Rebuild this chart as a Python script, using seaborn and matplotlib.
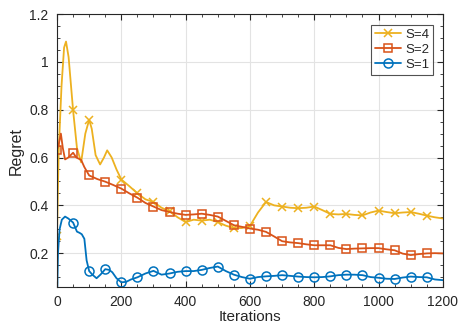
import numpy as np
import pandas as pd
import matplotlib
matplotlib.use("Agg")
import matplotlib.pyplot as plt
import seaborn as sns
from matplotlib.ticker import MultipleLocator, FuncFormatter

# ------------------------------
# Data
# ------------------------------
iter_s4 = [0, 5, 14, 22, 28, 36, 50, 62, 75, 88, 100, 108, 120, 134, 146, 156, 170, 185,
           200, 225, 250, 275, 300, 325, 350, 375, 400, 425, 450, 475, 500, 525, 550, 575,
           600, 625, 650, 675, 700, 725, 750, 775, 800, 825, 850, 875, 900, 925, 950, 975,
           1000, 1025, 1050, 1075, 1100, 1125, 1150, 1175, 1200]
regret_s4 = [0.27, 0.62, 0.90, 1.06, 1.085, 1.02, 0.797, 0.64, 0.58, 0.70, 0.758, 0.72, 0.61,
             0.571, 0.60, 0.63, 0.60, 0.55, 0.508, 0.48, 0.45, 0.425, 0.414, 0.39, 0.375,
             0.35, 0.33, 0.34, 0.336, 0.34, 0.33, 0.315, 0.305, 0.305, 0.314, 0.37, 0.414,
             0.40, 0.395, 0.39, 0.388, 0.39, 0.395, 0.38, 0.364, 0.362, 0.364, 0.36, 0.358,
             0.37, 0.378, 0.372, 0.367, 0.37, 0.372, 0.365, 0.357, 0.35, 0.345]

iter_s2 = [0, 6, 12, 18, 25, 35, 50, 60, 75, 85, 100, 125, 150, 175, 200, 225, 250, 275,
           300, 325, 350, 375, 400, 425, 450, 475, 500, 525, 550, 575, 600, 625, 650, 675,
           700, 725, 750, 775, 800, 825, 850, 875, 900, 925, 950, 975, 1000, 1025, 1050,
           1075, 1100, 1125, 1150, 1175, 1200]
regret_s2 = [0.633, 0.66, 0.70, 0.64, 0.592, 0.60, 0.62, 0.60, 0.59, 0.56, 0.525, 0.51,
             0.499, 0.485, 0.47, 0.45, 0.432, 0.41, 0.395, 0.38, 0.372, 0.365, 0.36, 0.362,
             0.365, 0.36, 0.353, 0.335, 0.317, 0.31, 0.303, 0.298, 0.289, 0.27, 0.25, 0.245,
             0.242, 0.237, 0.233, 0.233, 0.233, 0.222, 0.217, 0.219, 0.22, 0.221, 0.221,
             0.216, 0.212, 0.198, 0.192, 0.196, 0.199, 0.2, 0.199]

iter_s1 = [0, 3, 8, 15, 25, 35, 50, 62, 70, 77, 85, 92, 100, 110, 123, 135, 150, 162, 172,
           185, 200, 215, 230, 250, 275, 300, 325, 350, 375, 400, 425, 450, 475, 500, 525,
           550, 575, 600, 625, 650, 675, 700, 725, 750, 775, 800, 825, 850, 875, 900, 925,
           950, 975, 1000, 1025, 1050, 1075, 1100, 1125, 1150, 1175, 1200]
regret_s1 = [0.0, 0.2, 0.30, 0.34, 0.353, 0.345, 0.328, 0.29, 0.285, 0.279, 0.26, 0.17,
             0.125, 0.11, 0.095, 0.11, 0.133, 0.13, 0.12, 0.095, 0.078, 0.08, 0.09, 0.099,
             0.115, 0.126, 0.11, 0.115, 0.122, 0.125, 0.125, 0.13, 0.138, 0.144, 0.125, 0.11,
             0.10, 0.093, 0.10, 0.103, 0.105, 0.108, 0.105, 0.102, 0.10, 0.099, 0.10, 0.103,
             0.108, 0.11, 0.11, 0.108, 0.10, 0.097, 0.093, 0.092, 0.098, 0.102, 0.10, 0.099,
             0.09, 0.087]

series_labels = ["S=4", "S=2", "S=1"]


def marker_idx(iters):
    # markers sit every 50 iterations, none at the last point
    return [i for i, t in enumerate(iters) if t % 50 == 0 and t < 1200]


# ------------------------------
# Plot
# ------------------------------
sns.set_theme(style="ticks")
plt.rcParams["font.family"] = ["Liberation Sans", "DejaVu Sans"]

fig = plt.figure(figsize=(4.58, 3.27), dpi=100)
ax = fig.add_axes([0.1245, 0.122, 0.8425, 0.835])

styles = [
    (iter_s4, regret_s4, "#EDB120", "x", 5.2),
    (iter_s2, regret_s2, "#D95319", "s", 5.6),
    (iter_s1, regret_s1, "#0072BD", "o", 6.5),
]
for (xs, ys, col, mk, ms), lab in zip(styles, series_labels):
    sns.lineplot(x=xs, y=ys, ax=ax, color=col, marker=mk, markersize=ms,
                 markerfacecolor="none", markeredgecolor=col, markeredgewidth=1.1,
                 linewidth=1.3, markevery=marker_idx(xs), label=lab, sort=False)

ax.set_xlim(0, 1200)
ax.set_ylim(0.058, 1.2)
ax.xaxis.set_major_locator(MultipleLocator(200))
ax.xaxis.set_minor_locator(MultipleLocator(50))
ax.yaxis.set_major_locator(MultipleLocator(0.2))
ax.yaxis.set_minor_locator(MultipleLocator(0.05))
ax.yaxis.set_major_formatter(FuncFormatter(lambda v, p: f"{v:g}"))

ax.grid(True, which="major", color="#e3e3e3", linewidth=0.8)
ax.set_axisbelow(True)
for sp in ax.spines.values():
    sp.set_visible(True)
    sp.set_color("#262626")
    sp.set_linewidth(0.8)
ax.tick_params(which="both", direction="in", top=True, right=True,
               colors="#262626", labelsize=10)
ax.tick_params(which="major", length=4, width=0.8)
ax.tick_params(which="minor", length=2.5, width=0.6)
ax.tick_params(axis="x", which="major", pad=5.5)
ax.tick_params(axis="y", which="major", pad=6)

ax.set_xlabel("Iterations", fontsize=11, color="#262626", labelpad=1)
ax.set_ylabel("Regret", fontsize=11.5, color="#262626", labelpad=4)

leg = ax.legend(loc="upper right", bbox_to_anchor=(0.985, 0.975), fontsize=9.5,
                frameon=True, fancybox=False, handlelength=2.0, handletextpad=0.3,
                borderpad=0.3, labelspacing=0.2, borderaxespad=0.3)
leg.get_frame().set_edgecolor("#262626")
leg.get_frame().set_linewidth(0.8)

fig.savefig("out.png", dpi=100)
